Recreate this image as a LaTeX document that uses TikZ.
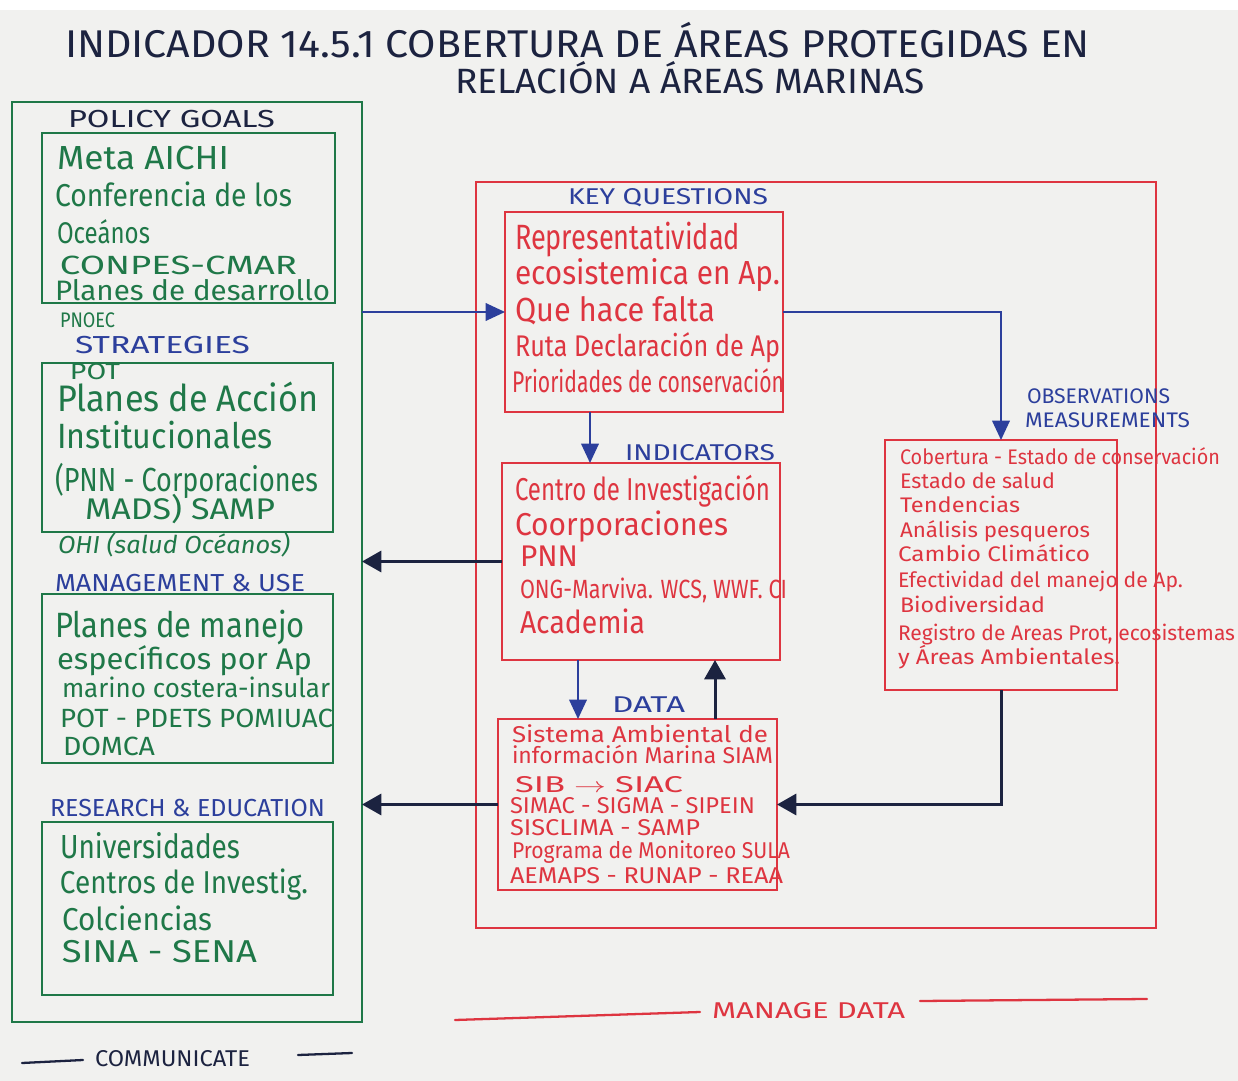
\documentclass[tikz,border=0pt]{standalone}
\usepackage{fontspec}
\setmainfont{Fira Sans}
\usetikzlibrary{arrows.meta,fit}
\newlength\pxu \setlength\pxu{0.02cm}
% hand-lettered line: font size, target width (px units), text
\newcommand\hw[3]{{\fontsize{#1}{#1}\selectfont\resizebox{#2\pxu}{\height}{#3}}}
\definecolor{mgreen}{HTML}{1F7848}
\definecolor{mred}{HTML}{DE3540}
\definecolor{mblue}{HTML}{2C3F9C}
\definecolor{mnavy}{HTML}{1C2340}
\definecolor{paper}{HTML}{F1F1EF}
\tikzset{
  x=0.02cm, y=-0.02cm,
  ln/.style={anchor=base west, inner sep=0, outer sep=0},
  gt/.style={ln, text=mgreen},
  rt/.style={ln, text=mred},
  bt/.style={ln, text=mblue},
  kt/.style={ln, text=mnavy},
  gbox/.style={draw=mgreen, line width=1.3pt, inner sep=0, outer sep=0},
  rbox/.style={draw=mred, line width=1.3pt, inner sep=0, outer sep=0},
  barrow/.style={draw=mblue, line width=1pt, -{Triangle[length=11pt,width=10pt]}},
  karrow/.style={draw=mnavy, line width=1.7pt, -{Triangle[length=11pt,width=12pt]}},
}
\begin{document}
\begin{tikzpicture}
\useasboundingbox (0,0) rectangle (1238,1081);
\fill[paper] (0,0) rectangle (1238,1081);
\fill[white] (0,0) rectangle (1238,10);

% title
\node[kt] (title1) at (65,58) {\hw{22}{1025}{INDICADOR 14.5.1 COBERTURA DE ÁREAS PROTEGIDAS EN}};
\node[kt] (title2) at (455,94) {\hw{20}{470}{RELACIÓN A ÁREAS MARINAS}};

% ---------- communicate column ----------
\node[gbox, fit={(12,102) (362,1022)}] (go) {};

\node[kt] (lpol) at (68,128) {\hw{14}{207}{POLICY GOALS}};
\node[gbox, fit={(42,133) (335,303)}] (pol) {};
\node[gt] (p1) at (57,170) {\hw{19}{172}{Meta AICHI}};
\node[gt] (p2) at (55,207) {\hw{18}{237}{Conferencia de los}};
\node[gt] (p3) at (57,244) {\hw{17}{93}{Oceános}};
\node[gt] (p4) at (60,275) {\hw{15}{237}{CONPES-CMAR}};
\node[gt] (p5) at (55,301) {\hw{16}{275}{Planes de desarrollo}};
\node[gt] (p6) at (60,328) {\hw{12}{55}{PNOEC}};

\node[bt] (lstr) at (75,354) {\hw{14}{175}{STRATEGIES}};
\node[gt] (pot) at (70,379) {\hw{13}{50}{POT}};
\node[gbox, fit={(42,363) (333,532)}] (str) {};
\node[gt] (s1) at (57,412) {\hw{21}{261}{Planes de Acción}};
\node[gt] (s2) at (57,449) {\hw{20}{216}{Institucionales}};
\node[gt] (s3) at (55,491) {\hw{19}{263}{(PNN - Corporaciones}};
\node[gt] (s4) at (85,519) {\hw{17}{190}{MADS) SAMP}};
\node[gt] (s5) at (58,553) {\hw{14}{232}{\itshape OHI (salud Océanos)}};

\node[bt] (lman) at (55,591) {\hw{14}{250}{MANAGEMENT \& USE}};
\node[gbox, fit={(42,594) (333,763)}] (man) {};
\node[gt] (m1) at (55,637) {\hw{20}{250}{Planes de manejo}};
\node[gt] (m2) at (57,669) {\hw{17}{255}{específicos por Ap}};
\node[gt] (m3) at (62,697) {\hw{15}{268}{marino costera-insular}};
\node[gt] (m4) at (60,727) {\hw{15}{273}{POT - PDETS POMIUAC}};
\node[gt] (m5) at (63,755) {\hw{15}{92}{DOMCA}};

\node[bt] (lres) at (50,816) {\hw{14}{275}{RESEARCH \& EDUCATION}};
\node[gbox, fit={(42,822) (333,995)}] (res) {};
\node[gt] (r1) at (60,858) {\hw{19}{180}{Universidades}};
\node[gt] (r2) at (60,893) {\hw{18}{248}{Centros de Investig.}};
\node[gt] (r3) at (62,930) {\hw{18}{150}{Colciencias}};
\node[gt] (r4) at (62,962) {\hw{18}{195}{SINA - SENA}};

\draw[mnavy, line width=1.3pt, line cap=round] (22,1063) -- (83,1060);
\node[kt] (lcom) at (95,1066) {\hw{13}{155}{COMMUNICATE}};
\draw[mnavy, line width=1.3pt, line cap=round] (298,1055) -- (352,1053);

% ---------- manage data frame ----------
\node[rbox, fit={(476,182) (1156,928)}] (mo) {};

\node[bt] (lkq) at (568,205) {\hw{13}{200}{KEY QUESTIONS}};
\node[rbox, fit={(505,212) (783,412)}] (kq) {};
\node[rt] (k1) at (515,250) {\hw{20}{225}{Representatividad}};
\node[rt] (k2) at (515,285) {\hw{19}{265}{ecosistemica en Ap.}};
\node[rt] (k3) at (515,322) {\hw{19}{200}{Que hace falta}};
\node[rt] (k4) at (515,357) {\hw{17}{265}{Ruta Declaración de Ap}};
\node[rt] (k5) at (512,392) {\hw{17}{272}{Prioridades de conservación}};

\node[bt] (lind) at (625,460) {\hw{13}{150}{INDICATORS}};
\node[rbox, fit={(502,463) (780,660)}] (ind) {};
\node[rt] (i1) at (515,500) {\hw{18}{255}{Centro de Investigación}};
\node[rt] (i2) at (515,535) {\hw{18}{213}{Coorporaciones}};
\node[rt] (i3) at (520,566) {\hw{17}{58}{PNN}};
\node[rt] (i4) at (520,598) {\hw{15}{267}{ONG-Marviva. WCS, WWF. CI}};
\node[rt] (i5) at (520,633) {\hw{18}{125}{Academia}};

\node[bt] (ldat) at (612,712) {\hw{13}{73}{DATA}};
\node[rbox, fit={(498,719) (777,890)}] (dat) {};
\node[rt] (d1) at (512,742) {\hw{13}{256}{Sistema Ambiental de}};
\node[rt] (d2) at (512,763) {\hw{13}{261}{información Marina SIAM}};
\node[rt] (d3) at (515,792) {\hw{13}{168}{SIB $\rightarrow$ SIAC}};
\node[rt] (d4) at (510,813) {\hw{13}{245}{SIMAC - SIGMA - SIPEIN}};
\node[rt] (d5) at (510,835) {\hw{13}{190}{SISCLIMA - SAMP}};
\node[rt] (d6) at (512,858) {\hw{13}{278}{Programa de Monitoreo SULA}};
\node[rt] (d7) at (510,883) {\hw{13}{273}{AEMAPS - RUNAP - REAA}};

\node[bt] (lob1) at (1027,404) {\hw{12}{143}{OBSERVATIONS}};
\node[bt] (lob2) at (1025,428) {\hw{12}{165}{MEASUREMENTS}};
\node[rbox, fit={(885,440) (1117,690)}] (obs) {};
\node[rt] (o1) at (900,464) {\hw{12}{320}{Cobertura - Estado de conservación}};
\node[rt] (o2) at (900,488) {\hw{12}{155}{Estado de salud}};
\node[rt] (o3) at (900,512) {\hw{12}{120}{Tendencias}};
\node[rt] (o4) at (900,537) {\hw{12}{190}{Análisis pesqueros}};
\node[rt] (o5) at (898,561) {\hw{12}{192}{Cambio Climático}};
\node[rt] (o6) at (898,587) {\hw{12}{285}{Efectividad del manejo de Ap.}};
\node[rt] (o7) at (900,612) {\hw{12}{145}{Biodiversidad}};
\node[rt] (o8) at (898,640) {\hw{12}{337}{Registro de Areas Prot, ecosistemas}};
\node[rt] (o9) at (898,664) {\hw{12}{222}{y Áreas Ambientales.}};

\draw[mred, line width=1.3pt, line cap=round] (455,1020) -- (700,1012);
\node[rt] (lmd) at (712,1018) {\hw{13}{193}{MANAGE DATA}};
\draw[mred, line width=1.3pt, line cap=round] (920,1001) -- (1147,999);

% ---------- connectors ----------
\draw[barrow] (kq.west -| go.east) -- (kq.west);
\draw[barrow] (kq.east) -| (obs.north);
\draw[barrow] (590,0 |- kq.south) -- (590,0 |- ind.north);
\draw[barrow] (578,0 |- ind.south) -- (578,0 |- dat.north);
\draw[karrow] (715,0 |- dat.north) -- (715,0 |- ind.south);
\draw[karrow] (ind.west) -- (ind.west -| go.east);
\draw[karrow] (dat.west) -- (dat.west -| go.east);
\draw[karrow] (obs.south) |- (dat.east);
\end{tikzpicture}
\end{document}
